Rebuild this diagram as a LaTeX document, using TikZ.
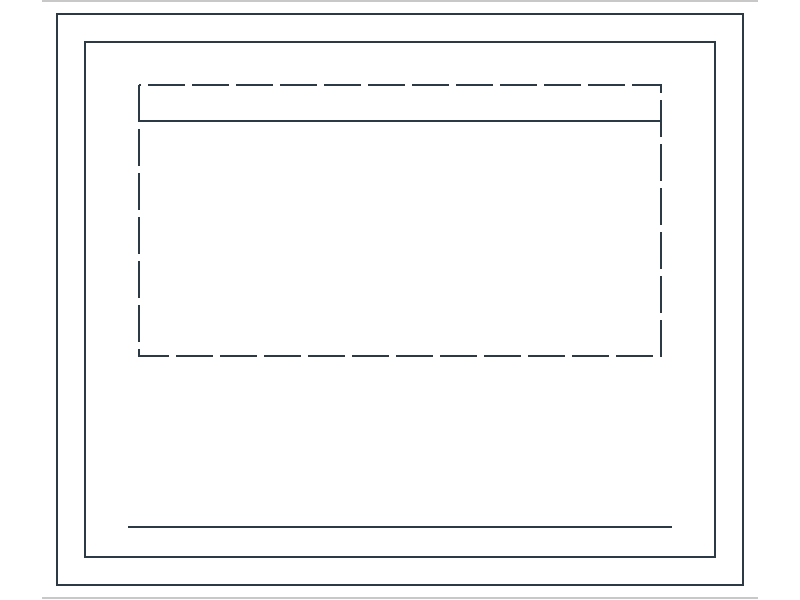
\documentclass[tikz,border=0pt]{standalone}
\usepackage{xcolor}
\usepackage{tikz}
\usetikzlibrary{positioning,calc}
\definecolor{inkline}{HTML}{2B3A45}
\definecolor{rulegray}{HTML}{C8C8C8}
\tikzset{
    frame/.style={draw=inkline, line width=1.5pt},
    cutline/.style={draw=inkline, line width=1.5pt, dash pattern=on 27.75pt off 5.25pt},
    edgerule/.style={draw=rulegray, line width=1.5pt}
}

\begin{document}
\begin{tikzpicture}[x=0.75pt, y=-0.75pt]
    \useasboundingbox (0,0) rectangle (800,600);
    \coordinate (OuterTL) at (57, 14);
    \coordinate (OuterBR) at (743, 585);
    \coordinate (InnerTL) at (85, 42);
    \coordinate (InnerBR) at (715, 557);
    \coordinate (CutTL) at (139, 85);
    \coordinate (CutBR) at (661, 356);
    \coordinate (BandL) at (139, 121);
    \coordinate (BandR) at (661, 121);
    \coordinate (BaseL) at (128, 527);
    \coordinate (BaseR) at (672, 527);

    % page edges
    \draw [edgerule] (42, 0.8) -- (758, 0.8);
    \draw [edgerule] (42, 598) -- (758, 598);

    \draw [frame] (OuterTL) rectangle (OuterBR);
    \draw [frame] (InnerTL) rectangle (InnerBR);

    \draw [cutline] (CutTL) rectangle (CutBR);
    \draw [frame] (BandL) -- (BandR);

    \draw [frame] (BaseL) -- (BaseR);
\end{tikzpicture}
\end{document}
